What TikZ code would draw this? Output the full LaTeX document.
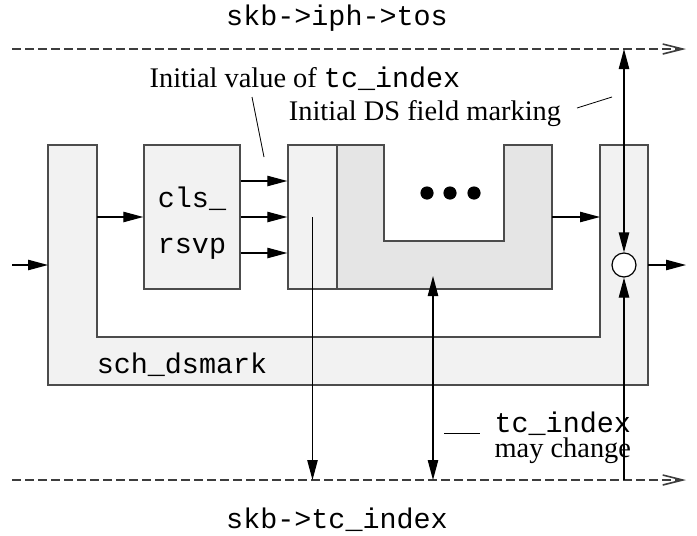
\documentclass[tikz,border=0pt]{standalone}
\usepackage{fontspec}
\setmainfont{Liberation Serif}
\setmonofont{Liberation Mono}
\usepackage{tikz}
\usetikzlibrary{arrows.meta}

\definecolor{lightfill}{gray}{0.95}
\definecolor{darkfill}{gray}{0.9}
\definecolor{edge}{gray}{0.3}

\begin{document}
\begin{tikzpicture}[x=0.5pt,y=-0.5pt,->,>={Triangle[length=10pt,width=5.2pt]},
	line width=0.6pt,font=\fontsize{14.2}{17}\selectfont,
	box/.style={draw=edge,fill=lightfill,line width=0.7pt,inner sep=0pt},
	bus/.style={draw=edge!80!black,dash pattern=on 4.5pt off 2pt,line width=0.8pt,
		-{Straight Barb[length=10pt,width=5pt]}},
	label/.style={inner sep=0pt,anchor=base},
	lead/.style={-,line width=0.4pt}]
	
	\useasboundingbox (0,0) rectangle (697,536);
	
	% header fields
	\coordinate (tosL) at (12,49);
	\coordinate (tosR) at (686,49);
	\coordinate (tcL) at (12,480);
	\coordinate (tcR) at (686,480);
	\draw[bus] (tosL) -- (tosR);
	\draw[bus] (tcL) -- (tcR);
	\node[label] (tos) at (337,25) {\ttfamily skb->iph->tos};
	\node[label] (tcx) at (337,528) {\ttfamily skb->tc\_index};
	
	% outer qdisc
	\draw[box,-] (48,145) -- (97,145) -- (97,337) -- (600,337) -- (600,145)
		-- (648,145) -- (648,385) -- (48,385) -- cycle;
	\node[label] (dsm) at (182,373) {\ttfamily sch\_dsmark};
	
	% classifier
	\node[box,minimum width=48pt,minimum height=72pt] (cls) at (192,217) {};
	\node[label] at (192,207) {\ttfamily cls\_};
	\node[label] at (192,253) {\ttfamily rsvp};
	
	% inner qdisc
	\node[box,minimum width=24.5pt,minimum height=72pt] (tci) at (312.5,217) {};
	\draw[box,-,fill=darkfill] (337,145) -- (384,145) -- (384,241) -- (504,241)
		-- (504,145) -- (552,145) -- (552,289) -- (337,289) -- cycle;
	\foreach \x in {427,450,474}
		\fill (\x,193) circle (3.3pt);
	
	\node[draw,circle,fill=white,minimum size=12pt,inner sep=0pt] (mix) at (624,265) {};
	
	\coordinate (in) at (12,265);
	\coordinate (dsin) at (48,265);
	\coordinate (dsup) at (97,217);
	\coordinate (uout) at (552,217);
	\coordinate (dsback) at (600,217);
	\coordinate (dsout) at (648,265);
	\coordinate (out) at (686,265);
	\coordinate (uin) at (433,276);
	
	\draw (in) -- (dsin);
	\draw (dsup) -- (cls.west);
	\foreach \y in {181,217,253}
		\draw (cls.east |- 0,\y) -- (tci.west |- 0,\y);
	\draw (uout) -- (dsback);
	\draw (dsout) -- (out);
	
	\draw (tci.center) -- (tci |- tcL);
	\draw[<->] (uin) -- (uin |- tcL);
	\draw[<->] (mix.north) -- (mix |- tosR);
	\draw (mix |- tcR) -- (mix.south);
	
	% remarks
	\node[label] (ivl) at (305,87) {Initial value of \texttt{tc\_index}};
	\node[label] (dsf) at (425,120) {Initial DS field marking};
	\node[label,anchor=base west] (chg) at (494,432) {\ttfamily tc\_index};
	\node[label,anchor=base west] (may) at (494,457) {may change};
	\draw[lead] (252,97) -- (264,157);
	\draw[lead] (577,108) -- (612,97);
	\draw[lead] (444,433) -- (480,433);
\end{tikzpicture}
\end{document}
